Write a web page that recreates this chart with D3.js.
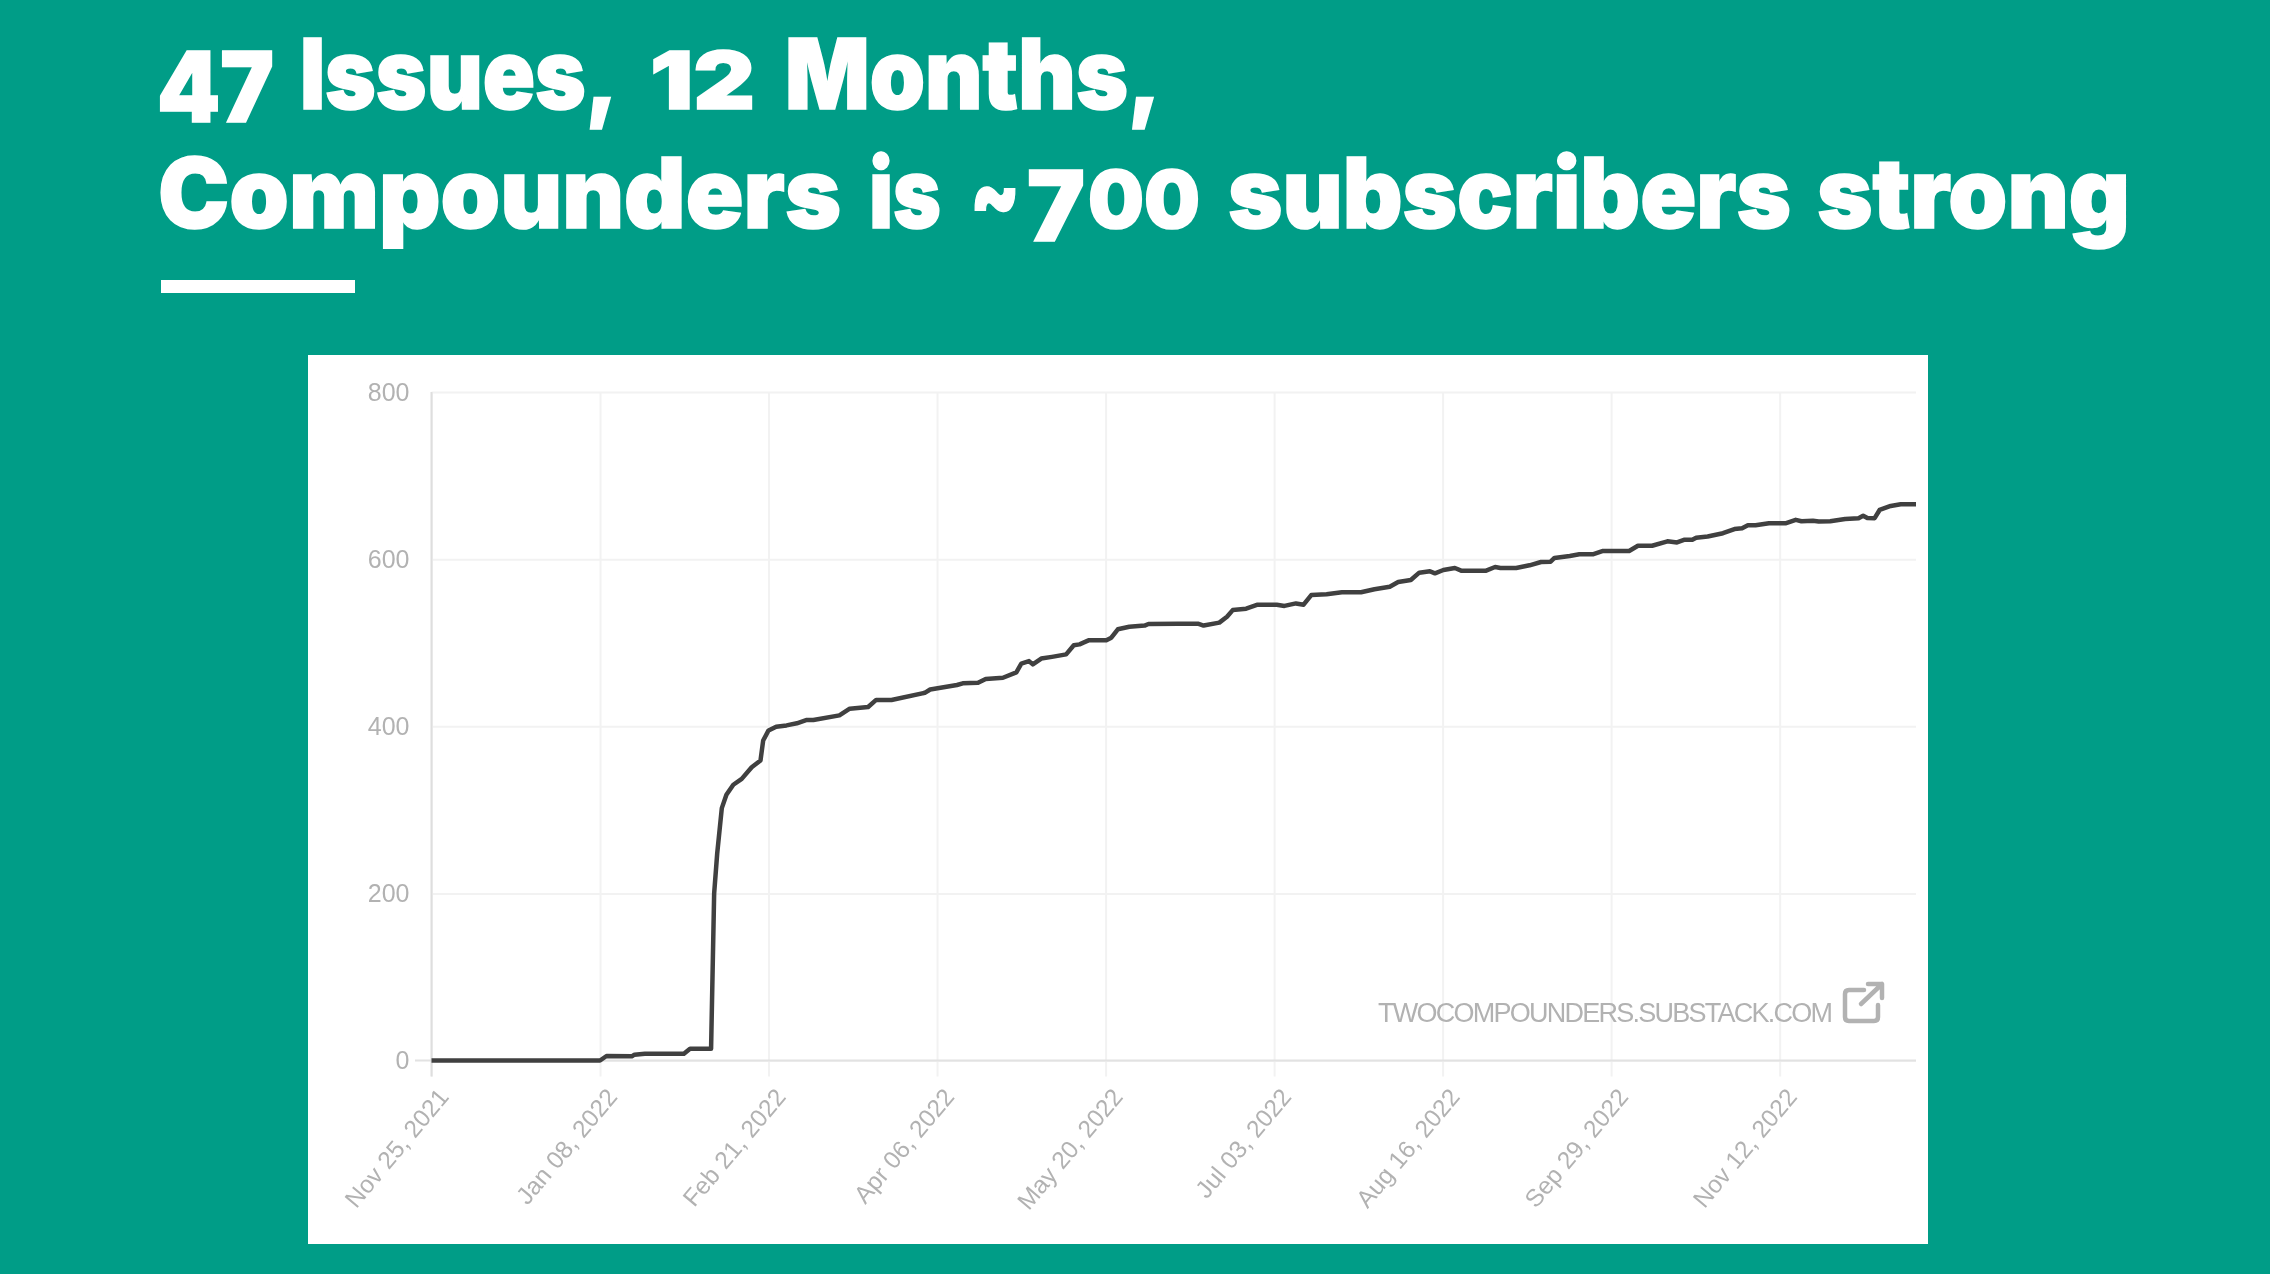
<!DOCTYPE html>
<html><head><meta charset="utf-8">
<script src="https://cdn.jsdelivr.net/npm/d3@7"></script>
<style>
html,body{margin:0;padding:0;background:#009d87;overflow:hidden}
svg{display:block}
</style></head><body><svg id="c" width="2270" height="1274"></svg>
<script>
// kind: 0 = plain text, 1 = old-style descending figure, 2 = old-style x-height figure
const titleLines = [
  [["47",1],["Issues,",0],["12",2],["Months,",0]],
  [["Compounders",0],["is",0],["~",0],["7",1],["00",2],["subscribers",0],["strong",0]]
];
const titleSpans = [
  [[157,274],[300,618],[650,755],[785,1161]],
  [[158,841],[869,941],[970,1020],[1027,1085],[1088,1200],[1228,1791],[1817,2130]]
];
const titleBaselines = [109,228];
const glue = {"~":"", "7":""};
const yTicks = [0,200,400,600,800];
const startDate = "2021-11-25";
const tickDays = [0,44,88,132,176,220,264,308,352];
const watermark = "TWOCOMPOUNDERS.SUBSTACK.COM";
const days = [0,44,45.7,52.3,53,55.7,65.9,67.5,73,73.8,74.6,75.8,77,78.8,81,83.6,85.9,86.6,88,90,92.7,95.4,98,99.7,106.5,109.2,114,116.1,120.1,128.8,130.2,137.2,138.7,142.7,144.7,149.2,152.7,154,156,157,159.2,162,165.7,167.7,169.2,171.7,176.2,177.5,179.2,182.2,186.2,187.2,200.1,201.6,205.7,207.7,209.2,212.7,215.7,220.7,222.7,225.7,227.7,229.7,233.7,237.7,242.7,246.2,250.2,252.4,255.7,257.9,260.7,262,264.2,267.2,269,275.2,277.7,279.1,283.2,286.7,289.7,292.2,293.2,297.2,299.7,303.2,305.7,312.7,315,318.7,322.7,325.2,327.2,329.2,330.2,333.2,337.2,340.2,342.2,343.7,345.7,349.2,353.7,356.2,357.7,360.7,362.2,365.2,369.1,372.6,373.8,374.9,376.8,378.1,381,383.6,387.6];
const subscribers = [0,0,5.4,5,7,8,8,14,14,200,248,302,318,330,337,351,359,383,395,399.5,401,403.5,407.5,407.5,413,421,423,431.5,431.5,440,444,449.4,451.4,452,456.5,458,464.5,475,478,474,481,483,486,497,498,503,503,506,516,519,520.5,522.4,522.8,520.5,524,531,539,540.7,545.5,545.5,544,547,545.5,557,558,560.3,560.3,564,567,572.6,575,583.8,585.4,583,587,589.4,586,586,590.6,589.4,589.4,592.6,596.6,597,601.4,603.8,605.8,605.8,609.7,609.7,616,616,621.3,620,623.3,623.3,625.7,627,631,636,637,640.5,640.5,643,643,647,645.3,645.8,645,645.3,648,649,652,649.2,649,658.8,663.6,665.6,665.6];

const svg = d3.select("#c");
const TEAL="#009d87", GREY="#b2b2b2";
svg.append("rect").attr("width",2270).attr("height",1274).attr("fill",TEAL);

// title
const fam = "Inter, 'Open Sans', sans-serif";
const figure={0:{size:97,drop:0},1:{size:97,drop:13},2:{size:80,drop:0}};
titleLines.forEach((segs,i)=>{
  const t = svg.append("text").attr("fill","#fff").attr("stroke","#fff").attr("stroke-width",1.6)
    .attr("font-family",fam).attr("font-weight",900).attr("font-size",97)
    .attr("y",titleBaselines[i]);
  segs.forEach(([s,k],j)=>{
    const f=figure[k], [x0,x1]=titleSpans[i][j];
    t.append("tspan").attr("x",x0).attr("y",titleBaselines[i]+f.drop).attr("font-size",f.size)
      .attr("textLength",x1-x0).attr("lengthAdjust","spacingAndGlyphs").text(s);
    if(j<segs.length-1 && !(s in glue)) t.append("tspan").attr("font-size",1).text(" ");
  });
});
svg.append("rect").attr("x",161).attr("y",280).attr("width",194).attr("height",13).attr("fill","#fff");

// card
svg.append("rect").attr("x",308).attr("y",355).attr("width",1620).attr("height",889).attr("fill","#fff");
const chart=svg.append("g").style("filter","blur(0.55px)");

const t0=d3.utcParse("%Y-%m-%d")(startDate);
const toDate=d=>new Date(t0.getTime()+d*864e5);
const x=d3.scaleUtc().domain([toDate(0),toDate(387.6)]).range([431.5,1916]);
const y=d3.scaleLinear().domain([0,800]).range([1060.5,392]);
const font="'Liberation Sans', Arial, sans-serif";

// y axis and grid
const gy=chart.append("g").attr("transform",`translate(${x.range()[0]},0)`)
  .call(d3.axisLeft(y).tickValues(yTicks).tickSize(0).tickPadding(22));
gy.select(".domain").remove();
gy.selectAll("line").attr("x1",0).attr("x2",x.range()[1]-x.range()[0])
  .attr("stroke","#f2f2f2").attr("stroke-width",2);
gy.selectAll("text").attr("font-family",font).attr("font-size",25).attr("fill",GREY);

// x axis and grid
const gx=chart.append("g").attr("transform",`translate(0,${y(0)})`)
  .call(d3.axisBottom(x).tickValues(tickDays.map(toDate)).tickFormat(d3.utcFormat("%b %d, %Y")).tickSize(16));
gx.select(".domain").remove();
gx.selectAll("line").attr("y1",y(800)-y(0)).attr("y2",16).attr("stroke","#f2f2f2").attr("stroke-width",2);
gx.selectAll("text").attr("font-family",font).attr("font-size",24.5).attr("fill",GREY)
  .attr("text-anchor","end").attr("y",0).attr("dy",0)
  .attr("transform","translate(18,37) rotate(-50)");

// base line and y axis line
chart.append("line").attr("x1",415).attr("x2",x.range()[1]).attr("y1",y(0)).attr("y2",y(0)).attr("stroke","#e2e2e2").attr("stroke-width",2);
chart.append("line").attr("x1",x.range()[0]).attr("x2",x.range()[0]).attr("y1",y(800)).attr("y2",y(0)+16).attr("stroke","#dedede").attr("stroke-width",2);

// series
const line=d3.line().x((d,i)=>x(toDate(days[i]))).y(d=>y(d));
chart.append("path").datum(subscribers).attr("d",line).attr("fill","none")
  .attr("stroke","#404040").attr("stroke-width",4.5).attr("stroke-linejoin","round");

// watermark
chart.append("text").attr("x",1378).attr("y",1021.5).attr("font-family",font).attr("font-size",27)
  .attr("fill",GREY).attr("textLength",455).attr("lengthAdjust","spacing").text(watermark);
const ic=chart.append("g").attr("fill","none").attr("stroke",GREY).attr("stroke-width",4.5).attr("stroke-linecap","round").attr("stroke-linejoin","round");
ic.append("path").attr("d","M1864 990H1849Q1845 990 1845 994V1017Q1845 1021 1849 1021H1874Q1878 1021 1878 1017V1005");
ic.append("path").attr("d","M1861 1004L1882 984M1868 984H1882V998");
</script></body></html>
